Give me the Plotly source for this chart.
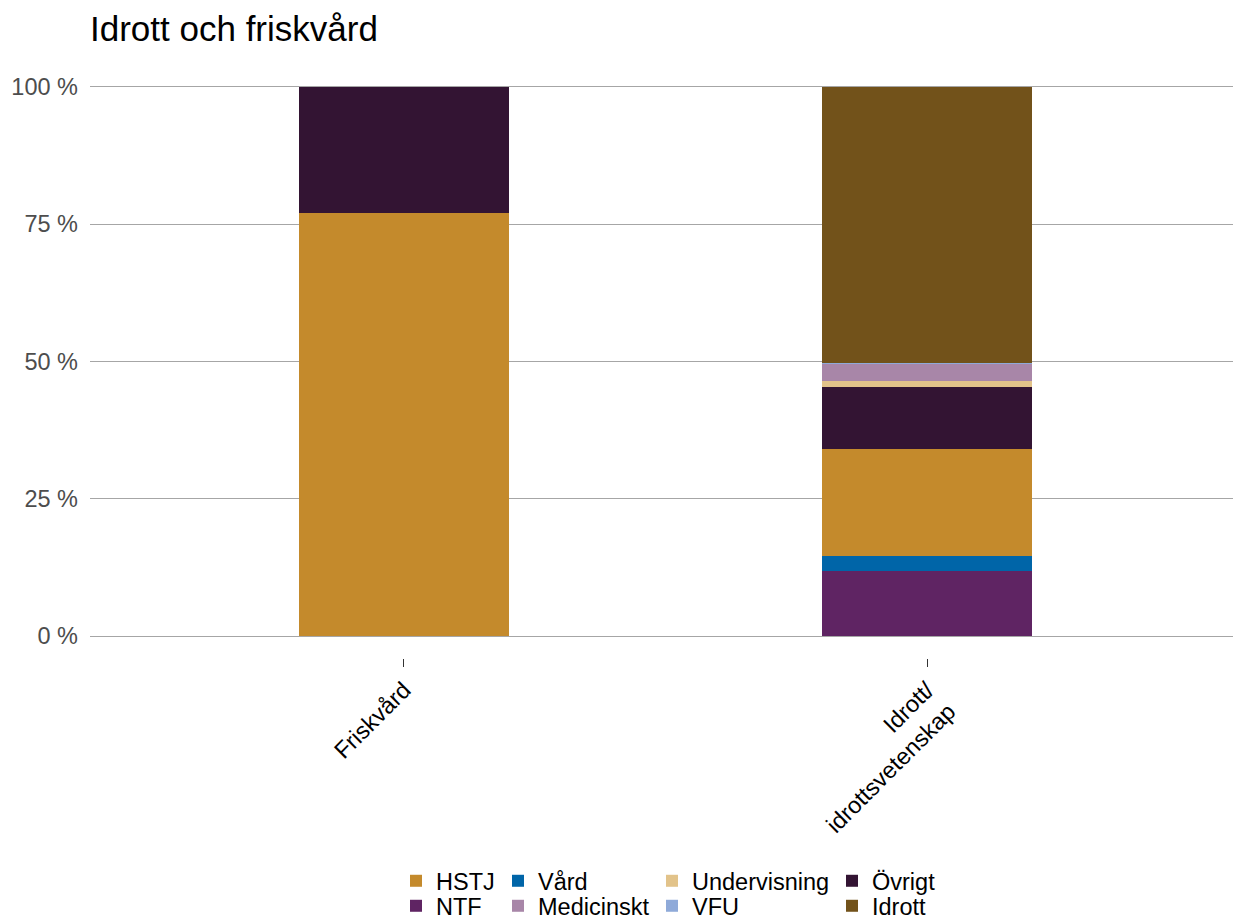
import plotly.graph_objects as go

categories = ["Friskvård", "Idrott/<br>idrottsvetenskap"]

# Stack order (bottom to top)
series_names = ["NTF", "Vård", "HSTJ", "Övrigt", "Undervisning", "Medicinskt", "VFU", "Idrott"]
NTF = [0, 11.8]
Vard = [0, 2.7]
HSTJ = [77.0, 19.6]
Ovrigt = [23.0, 11.2]
Undervisning = [0, 1.2]
Medicinskt = [0, 3.1]
VFU = [0, 0.2]
Idrott = [0, 50.2]

y_tickvals = [0, 25, 50, 75, 100]
y_ticktext = ["0 %", "25 %", "50 %", "75 %", "100 %"]

values = {
    "NTF": NTF, "Vård": Vard, "HSTJ": HSTJ, "Övrigt": Ovrigt,
    "Undervisning": Undervisning, "Medicinskt": Medicinskt, "VFU": VFU, "Idrott": Idrott,
}
colors = {
    "HSTJ": "#C48A2C", "NTF": "#5F2463", "Vård": "#0065A8", "Medicinskt": "#A886A8",
    "Undervisning": "#E2C38A", "VFU": "#8FAAD9", "Övrigt": "#331433", "Idrott": "#72521A",
}
# legend grid position (column, row) as in the ggplot-style 2x4 legend
legend_pos = {
    "HSTJ": (0, 0), "NTF": (0, 1),
    "Vård": (1, 0), "Medicinskt": (1, 1),
    "Undervisning": (2, 0), "VFU": (2, 1),
    "Övrigt": (3, 0), "Idrott": (3, 1),
}
legend_order = ["HSTJ", "NTF", "Vård", "Medicinskt", "Undervisning", "VFU", "Övrigt", "Idrott"]

FONT = "Liberation Sans, Arial, sans-serif"

# page has an 8px body margin, so figure is drawn 8px smaller and shifted
W, H = 1233, 911
L, R, T, B = 82, 0, 57, 261
plot_w = W - L - R
plot_h = H - T - B

def px_to_paper_x(px):
    return (px - L) / plot_w

def px_to_paper_y(py):
    return (H - B - py) / plot_h

col_x = [388, 490, 644, 824]
row_y = [851, 876]

fig = go.Figure()
for name in series_names:
    idx = legend_order.index(name)
    lg = "legend" if idx == 0 else f"legend{idx + 1}"
    fig.add_trace(go.Bar(
        x=categories, y=values[name], name=name,
        marker=dict(color=colors[name], line=dict(width=0)),
        width=0.4, legend=lg,
    ))

legend_layout = {}
for idx, name in enumerate(legend_order):
    c, r = legend_pos[name]
    key = "legend" if idx == 0 else f"legend{idx + 1}"
    legend_layout[key] = dict(
        x=px_to_paper_x(col_x[c]), y=px_to_paper_y(row_y[r]),
        xanchor="left", yanchor="top", orientation="v",
        font=dict(family=FONT, size=23.5, color="#000000"),
        bgcolor="rgba(0,0,0,0)", itemwidth=30,
    )
fig.update_layout(**legend_layout)

fig.update_layout(
    width=W, height=H,
    barmode="stack",
    plot_bgcolor="white", paper_bgcolor="white",
    margin=dict(l=L, r=R, t=T, b=B, autoexpand=False),
    font=dict(family=FONT, size=23.5, color="#000000"),
    title=dict(
        text="Idrott och friskvård",
        font=dict(family=FONT, size=35, color="#000000"),
        x=L / W, xanchor="left", xref="container",
        y=1 - 21 / H, yanchor="middle", yref="container",
    ),
    showlegend=True,
)

fig.update_xaxes(
    range=[-0.6, 1.6],
    showgrid=False, zeroline=False, showline=False,
    ticks="outside", ticklen=8, tickcolor="#333333", tickwidth=1,
    tickangle=-45,
    tickfont=dict(family=FONT, size=23.5, color="#000000"),
)
fig.update_yaxes(
    range=[-4, 104],
    tickmode="array", tickvals=y_tickvals, ticktext=y_ticktext,
    showgrid=True, gridcolor="#A6A6A6", gridwidth=1,
    zeroline=False, showline=False,
    ticks="", ticklabelstandoff=11,
    tickfont=dict(family=FONT, size=23.5, color="#4D4D4D"),
)

fig.write_html("out.html")
